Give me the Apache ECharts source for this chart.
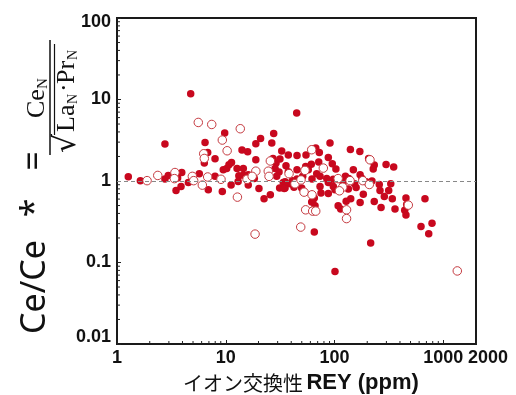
<!DOCTYPE html>
<html><head><meta charset="utf-8">
<script src="https://cdn.jsdelivr.net/npm/echarts@6/dist/echarts.min.js"></script>
<style>html,body{margin:0;padding:0;background:#fff}#c{width:516px;height:395px}</style>
</head><body><div id="c"></div>
<script>
// ---- data ----
const xTickLabels = [1, 10, 100, 1000, 2000];
const yTickLabels = [0.01, 0.1, 1, 10, 100];
const xMinorTicks = [2,3,4,5,6,7,8,9,20,30,40,50,60,70,80,90,200,300,400,500,600,700,800,900];
const yMinorTicks = [0.02,0.03,0.04,0.05,0.06,0.07,0.08,0.09,0.2,0.3,0.4,0.5,0.6,0.7,0.8,0.9,2,3,4,5,6,7,8,9,20,30,40,50,60,70,80,90];
const referenceCe = 1;

const filledREY = [1.27,1.64,2.76,4.76,2.76,2.96,3.49,3.88,3.94,3.61,4.53,5.71,6.45,6.35,6.82,7.97,6.91,7.97,9.3,9.78,
  9.49,10.2,11.2,10.7,11.3,12.7,14.5,13.2,14.5,13.0,14.1,15.9,18.9,18.9,20.9,16.1,16.1,18.3,20.2,22.5,
  25.7,27.6,26.5,27.2,29.0,31.5,32.7,28.4,30.9,29.4,35.8,37.6,37.6,45.2,45.2,45.2,44.9,54.7,54.3,31.3,
  35.1,33.8,39.2,42.2,51.0,49.9,61.7,65.2,62.1,65.2,90.9,140,171,206,232,227,298,350,67.2,72.5,
  87.7,95.4,71.6,61.2,52.5,57.4,103,149,126,135,172,179,35.1,40.9,48.2,73.6,68.6,84.8,97.5,73.6,
  87.7,97.5,120,153,195,221,258,329,34.5,42.4,262,315,75.1,87.7,101,134,158,184,141,128,
  172,232,287,340,454,679,63.0,66.2,108,114,268,360,461,442,454,624,788,735,215,101];
const filledCe = [1.13,1.01,2.84,11.8,1.06,1.17,0.764,0.856,1.27,1.09,0.96,1.23,2.97,1.66,2.24,1.87,0.78,1.14,0.743,3.88,
  1.37,1.42,0.89,1.58,1.69,1.42,1.42,1.16,1.18,0.986,2.40,2.28,1.82,2.86,3.33,0.89,1.19,1.07,0.81,0.604,
  0.677,3.83,2.92,1.89,1.66,1.86,2.33,1.42,1.29,1.14,1.54,2.08,1.30,2.06,1.37,1.06,6.83,2.08,1.51,0.818,
  0.818,0.96,0.924,0.977,1.14,0.818,0.551,0.617,1.06,0.236,2.92,2.44,2.30,1.89,1.57,1.40,1.59,1.48,2.54,2.24,
  1.94,1.63,1.71,1.61,1.35,1.37,1.40,1.37,1.14,1.07,1.19,1.07,0.977,1.01,1.03,1.14,1.23,1.07,1.05,0.856,
  0.96,0.856,0.96,0.924,0.977,1.0,0.906,0.924,0.81,0.841,0.764,0.764,0.710,0.702,0.78,0.795,0.832,0.69,0.604,0.566,
  0.544,0.56,0.645,0.604,0.617,0.604,0.56,0.496,0.496,0.452,0.472,0.452,0.515,0.439,0.384,0.276,0.304,0.226,0.174,0.0773];

const openREY = [1.89,2.37,3.41,3.37,5.59,7.43,4.93,5.07,6.09,6.82,6.27,6.35,9.3,10.3,13.6,9.04,15.7,18.9,17.5,12.8,
  25.7,24.6,25.0,38.2,43.3,53.5,49.2,52.5,61.7,54.3,48.9,18.6,78.9,108,139,182,209,119,62.1,111,
  63.0,67.2,129,129,1346,212,477];
const openCe = [1.01,1.17,1.27,1.07,5.23,4.94,1.14,1.01,0.89,1.12,2.16,1.89,3.18,2.35,4.38,1.05,1.05,1.32,1.14,0.634,
  1.76,1.32,1.14,1.23,0.924,1.35,1.03,0.73,2.42,0.443,0.272,0.223,1.44,1.07,1.01,1.01,0.906,0.841,0.677,0.758,
  0.427,0.427,0.443,0.346,0.0788,1.82,0.506];

// ---- chart ----
const zip = (a, b) => a.map((v, i) => [v, b[i]]);
const chart = echarts.init(document.getElementById('c'), null, {renderer: 'canvas'});
const numFont = 'Liberation Sans';
const red = '#c8081e';

function yFmt(v) {
  const s = v >= 1 ? String(Math.round(v)) : String(+v.toPrecision(1));
  if (s === '100') return '{top|100}';
  if (s === '0.01') return '{bot|0.01}';
  return s;
}
function xFmt(v) {
  const s = String(Math.round(v));
  if (s === '2000') return '{max|2000}';
  return s;
}

chart.setOption({
  animation: false,
  backgroundColor: '#fff',
  grid: {left: 117, right: 40, top: 18, bottom: 51, containLabel: false, outerBoundsMode: 'none',
    show: true, borderColor: '#1a1a1a', borderWidth: 2, backgroundColor: 'transparent'},
  xAxis: {
    type: 'log', logBase: 10, min: 1, max: 2000,
    splitLine: {show: false},
    axisLine: {show: false},
    axisTick: {show: true, inside: true, length: 4, lineStyle: {color: '#222', width: 1}},
    axisLabel: {
      color: '#111', fontFamily: numFont, fontWeight: 'bold', fontSize: 18, margin: 5,
      showMaxLabel: true, showMinLabel: true,
      formatter: xFmt,
      rich: {max: {color: '#111', fontFamily: numFont, fontWeight: 'bold', fontSize: 18, padding: [0, 0, 0, 24]}}
    },
    name: '{jp|イオン交換性} {en|REY (ppm)}',
    nameLocation: 'middle', nameGap: 28,
    nameTextStyle: {
      rich: {
        jp: {fontFamily: 'Noto Sans CJK JP', fontSize: 20, color: '#111', padding: [0, 0, 0, 9]},
        en: {fontFamily: numFont, fontSize: 22, fontWeight: 'bold', color: '#111'}
      }
    }
  },
  yAxis: {
    type: 'log', logBase: 10, min: 0.01, max: 100,
    splitLine: {show: false},
    axisLine: {show: false},
    axisTick: {show: true, inside: true, length: 4, lineStyle: {color: '#222', width: 1}},
    axisLabel: {
      color: '#111', fontFamily: numFont, fontWeight: 'bold', fontSize: 18, margin: 6,
      showMaxLabel: true, showMinLabel: true,
      formatter: yFmt,
      rich: {
        top: {color: '#111', fontFamily: numFont, fontWeight: 'bold', fontSize: 18, padding: [8, 0, 0, 0]},
        bot: {color: '#111', fontFamily: numFont, fontWeight: 'bold', fontSize: 18, padding: [0, 0, 14, 0]}
      }
    }
  },
  series: [
    {
      type: 'scatter', name: 'filled', data: zip(filledREY, filledCe),
      symbol: 'circle', symbolSize: 7.5,
      itemStyle: {color: red, opacity: 1},
      markLine: {
        silent: true, symbol: 'none', label: {show: false},
        lineStyle: {color: '#888', type: [4, 3], width: 1},
        data: [{yAxis: referenceCe}]
      },
      z: 3
    },
    {
      type: 'scatter', name: 'open', data: zip(openREY, openCe),
      symbol: 'circle', symbolSize: 8.5,
      itemStyle: {color: '#fff', borderColor: '#c53a40', borderWidth: 1, opacity: 1},
      z: 4
    },
    {
      type: 'custom', name: 'xminor', data: xMinorTicks.map(v => [v, yTickLabels[0]]), silent: true, z: 5,
      renderItem: (params, api) => {
        const p = api.coord([api.value(0), api.value(1)]);
        return {type: 'line', shape: {x1: p[0], y1: p[1], x2: p[0], y2: p[1] - 3}, style: {stroke: '#222', lineWidth: 1}};
      }
    },
    {
      type: 'custom', name: 'yminor', data: yMinorTicks.map(v => [xTickLabels[0], v]), silent: true, z: 5,
      renderItem: (params, api) => {
        const p = api.coord([api.value(0), api.value(1)]);
        return {type: 'line', shape: {x1: p[0], y1: p[1], x2: p[0] + 3, y2: p[1]}, style: {stroke: '#222', lineWidth: 1}};
      }
    }
  ],
  graphic: [{
    type: 'group', x: 35, y: 336, rotation: Math.PI / 2,
    children: [
      {type: 'text', x: 2, y: 0, style: {text: 'Ce/Ce', font: '34px "Noto Sans"', fill: '#111', textAlign: 'left', textVerticalAlign: 'middle'}},
      {type: 'text', x: 128, y: 0, style: {text: '*', font: '34px "Noto Sans"', fill: '#111', textAlign: 'center', textVerticalAlign: 'middle'}},
      {type: 'text', x: 175, y: 0, style: {text: '=', font: '34px "Noto Sans"', fill: '#111', textAlign: 'center', textVerticalAlign: 'middle'}},
      {type: 'text', x: 218, y: 2, style: {text: 'Ce', font: '26px "Liberation Serif"', fill: '#111', textAlign: 'left', textVerticalAlign: 'middle'}},
      {type: 'text', x: 247, y: 8, style: {text: 'N', font: '15px "Liberation Serif"', fill: '#111', textAlign: 'left', textVerticalAlign: 'middle'}},
      {type: 'line', shape: {x1: 181, y1: 15, x2: 296, y2: 15}, style: {stroke: '#111', lineWidth: 1.5}},
      {type: 'text', x: 183, y: 32, style: {text: '√', font: '30px "DejaVu Serif"', fill: '#111', textAlign: 'left', textVerticalAlign: 'middle'}},
      {type: 'line', shape: {x1: 201, y1: 19.5, x2: 292, y2: 19.5}, style: {stroke: '#111', lineWidth: 1.2}},
      {type: 'text', x: 204, y: 32, style: {text: 'La', font: '26px "Liberation Serif"', fill: '#111', textAlign: 'left', textVerticalAlign: 'middle'}},
      {type: 'text', x: 232, y: 38, style: {text: 'N', font: '14px "Liberation Serif"', fill: '#111', textAlign: 'left', textVerticalAlign: 'middle'}},
      {type: 'text', x: 244, y: 30, style: {text: '·', font: '26px "Liberation Serif"', fill: '#111', textAlign: 'left', textVerticalAlign: 'middle'}},
      {type: 'text', x: 252, y: 32, style: {text: 'Pr', font: '26px "Liberation Serif"', fill: '#111', textAlign: 'left', textVerticalAlign: 'middle'}},
      {type: 'text', x: 276, y: 38, style: {text: 'N', font: '14px "Liberation Serif"', fill: '#111', textAlign: 'left', textVerticalAlign: 'middle'}}
    ]
  }]
});
</script>
</body></html>
